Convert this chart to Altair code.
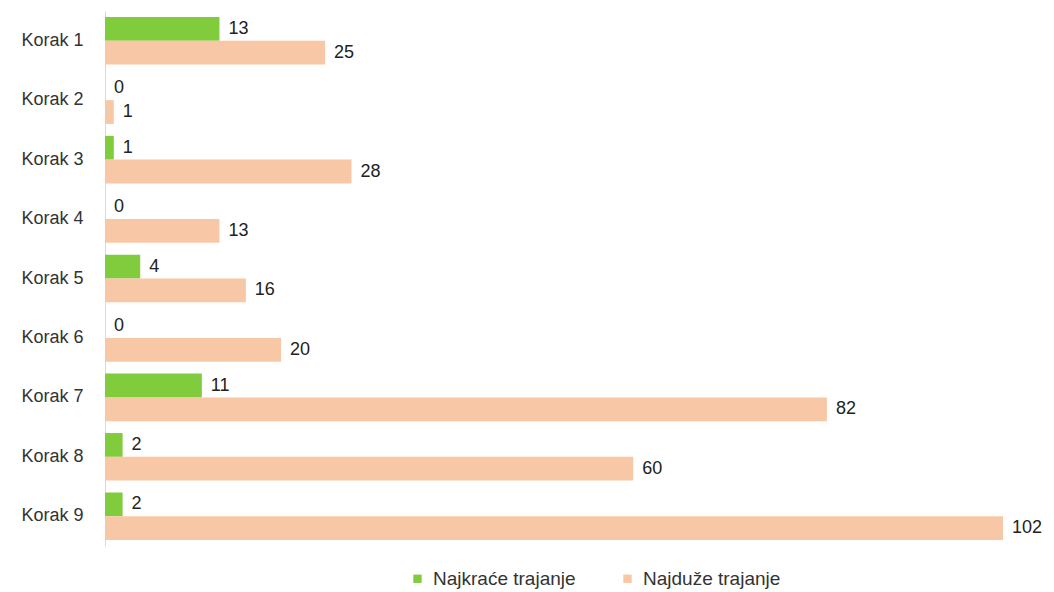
import altair as alt
import pandas as pd

steps = [f"Korak {i}" for i in range(1, 10)]
series = ["Najkraće trajanje", "Najduže trajanje"]
shortest = [13, 0, 1, 0, 4, 0, 11, 2, 2]
longest = [25, 1, 28, 13, 16, 20, 82, 60, 102]
colors = ["#80CC3C", "#F8C8A6"]

rows = []
for s, a, b in zip(steps, shortest, longest):
    rows.append({"step": s, "series": series[0], "value": a})
    rows.append({"step": s, "series": series[1], "value": b})
df = pd.DataFrame(rows)

FONT = "Liberation Sans"

y = alt.Y("step:N", sort=steps, title=None,
          scale=alt.Scale(paddingInner=0.2, paddingOuter=0.1),
          axis=alt.Axis(labelFontSize=18, labelColor="#333333", labelFont=FONT,
                        labelPadding=22, ticks=False, domainColor="#D9D9D9",
                        domainWidth=1))
x = alt.X("value:Q", title=None, scale=alt.Scale(domain=[0, 102], nice=False),
          axis=None)
yoff = alt.YOffset("series:N", sort=series, scale=alt.Scale(paddingInner=0))

bars = alt.Chart(df).mark_bar().encode(
    y=y, x=x, yOffset=yoff,
    color=alt.Color("series:N", sort=series,
                    scale=alt.Scale(domain=series, range=colors),
                    legend=alt.Legend(title=None, orient="none", direction="horizontal",
                                      legendX=303, legendY=558, symbolType="square",
                                      symbolSize=70, symbolStrokeWidth=0,
                                      labelFontSize=19, labelFont=FONT,
                                      labelColor="#333333", columnPadding=42,
                                      labelOffset=6)),
)

labels = alt.Chart(df).mark_text(align="left", baseline="middle", dx=9,
                                 fontSize=18, font=FONT, color="#222222").encode(
    y=y, x=x, yOffset=yoff, text="value:Q"
)

chart = (bars + labels).properties(
    width=898, height=535,
    autosize=alt.AutoSizeParams(type="none"),
    padding={"left": 97, "top": 3, "right": 43, "bottom": 46},
    background="white",
).configure_view(stroke=None)

chart.save("out.html", embed_options={"renderer": "svg", "actions": False})
